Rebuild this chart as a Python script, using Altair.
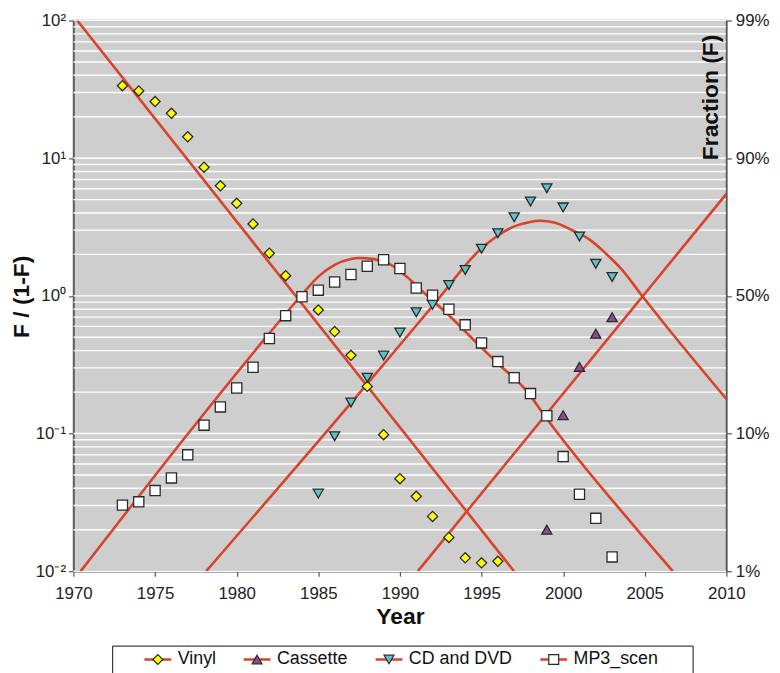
import altair as alt
import pandas as pd

series_names = ["Vinyl", "Cassette", "CD and DVD", "MP3_scen"]

vinyl_years = [1973, 1974, 1975, 1976, 1977, 1978, 1979, 1980, 1981, 1982, 1983,
               1985, 1986, 1987, 1988, 1989, 1990, 1991, 1992, 1993, 1994, 1995, 1996]
vinyl_vals = [33.6, 30.8, 25.8, 21.2, 14.3, 8.6, 6.3, 4.7, 3.33, 2.04, 1.40,
              0.79, 0.55, 0.37, 0.22, 0.098, 0.047, 0.035, 0.025, 0.0176, 0.0125, 0.0115, 0.0118]

cassette_years = [1999, 2000, 2001, 2002, 2003]
cassette_vals = [0.020, 0.136, 0.305, 0.53, 0.70]

cd_years = [1985, 1986, 1987, 1988, 1989, 1990, 1991, 1992, 1993, 1994,
            1995, 1996, 1997, 1998, 1999, 2000, 2001, 2002, 2003]
cd_vals = [0.0366, 0.0955, 0.168, 0.254, 0.368, 0.542, 0.76, 0.86, 1.20, 1.54,
           2.20, 2.85, 3.72, 4.85, 6.05, 4.39, 2.70, 1.71, 1.37]

mp3_years = [1973, 1974, 1975, 1976, 1977, 1978, 1979, 1980, 1981, 1982, 1983,
             1984, 1985, 1986, 1987, 1988, 1989, 1990, 1991, 1992, 1993,
             1994, 1995, 1996, 1997, 1998, 1999, 2000, 2001, 2002, 2003]
mp3_vals = [0.0302, 0.0319, 0.0385, 0.0476, 0.070, 0.115, 0.156, 0.214, 0.303, 0.49, 0.718,
            0.985, 1.10, 1.26, 1.43, 1.64, 1.83, 1.58, 1.14, 1.01, 0.80,
            0.616, 0.455, 0.333, 0.254, 0.195, 0.1346, 0.068, 0.0362, 0.0242, 0.0127]

# ---------------- fitted curves ----------------
fit_names = ["Vinyl fit", "Cassette fit", "CD and DVD fit", "MP3_scen fit"]

fit_vinyl_years = [1970.23, 1996.99]
fit_vinyl_vals = [100, 0.01]

fit_cass_years = [1991.1, 2010.0]
fit_cass_vals = [0.01, 5.5]

fit_cd_years = [1978.13, 1987.88, 1992.1, 1994.97, 1995.9, 1996.9, 1997.9, 1998.6,
                1999.5, 2000.5, 2001.6, 2002.6, 2003.6, 2004.84, 2006.0, 2010.0]
fit_cd_vals = [0.01, 0.221, 0.871, 2.20, 2.69, 3.16, 3.43, 3.51,
               3.39, 3.02, 2.57, 2.04, 1.55, 1.0, 0.67, 0.178]

fit_mp3_years = [1970.44, 1983.0, 1984.0, 1985.0, 1986.0, 1987.0, 1987.5, 1988.4, 1989.4,
                 1990.4, 1991.4, 1992.2, 1993.25, 1994.26, 1995.9, 1997.9, 1998.8, 2004.4, 2006.72]
fit_mp3_vals = [0.01, 0.741, 1.023, 1.38, 1.679, 1.854, 1.884, 1.849, 1.694,
                1.38, 1.072, 0.881, 0.676, 0.513, 0.331, 0.195, 0.138, 0.0209, 0.01]

# ---------------- axes ----------------
year_ticks = [1970, 1975, 1980, 1985, 1990, 1995, 2000, 2005, 2010]
decade_ticks = [0.01, 0.1, 1, 10, 100]
left_labels = ["10⁻²", "10⁻¹", "10⁰", "10¹", "10²"]
right_labels = ["1%", "10%", "50%", "90%", "99%"]
grid_vals = [0.01, 0.02, 0.03, 0.04, 0.05, 0.06, 0.07, 0.08, 0.09,
             0.1, 0.2, 0.3, 0.4, 0.5, 0.6, 0.7, 0.8, 0.9,
             1, 2, 3, 4, 5, 6, 7, 8, 9,
             10, 20, 30, 40, 50, 60, 70, 80, 90, 100]

marker_shapes = ["diamond", "triangle-up", "triangle-down", "square"]
marker_fills = ["#FFFF00", "#8E4A92", "#62C0C6", "#FFFFFF"]
marker_stroke = "#2a2a2a"
line_color = "#D8432B"

# ---------------- tables ----------------
pts = []
for name, ys, vs in [("Vinyl", vinyl_years, vinyl_vals),
                     ("Cassette", cassette_years, cassette_vals),
                     ("CD and DVD", cd_years, cd_vals),
                     ("MP3_scen", mp3_years, mp3_vals)]:
    for y, v in zip(ys, vs):
        pts.append({"series": name, "year": y, "value": v})
pts_df = pd.DataFrame(pts)

lines = []
for name, ys, vs in [("Vinyl fit", fit_vinyl_years, fit_vinyl_vals),
                     ("Cassette fit", fit_cass_years, fit_cass_vals),
                     ("CD and DVD fit", fit_cd_years, fit_cd_vals),
                     ("MP3_scen fit", fit_mp3_years, fit_mp3_vals)]:
    for y, v in zip(ys, vs):
        lines.append({"curve": name, "year": y, "value": v})
lines_df = pd.DataFrame(lines)

grid_df = pd.DataFrame({"v": grid_vals})


def label_expr(labels):
    bounds = [0.03, 0.3, 3, 30]
    expr = "'" + labels[-1] + "'"
    for b, lab in reversed(list(zip(bounds, labels[:-1]))):
        expr = f"datum.value < {b} ? '{lab}' : ({expr})"
    return expr


FONT = "Liberation Sans, Arial, sans-serif"
TFS = 23

xscale = alt.Scale(domain=[1970, 2010], nice=False, zero=False)
yscale = alt.Scale(type="log", domain=[0.01, 100], nice=False)

axis_common = dict(labelFont=FONT, labelFontSize=17, labelColor="#222",
                   tickColor="#555", tickSize=5, tickWidth=1.2,
                   domainColor="#555", domainWidth=1.5, grid=False,
                   titleFont=FONT, titleFontWeight="bold", titleColor="#111",
                   titleFontSize=TFS)

x_axis = alt.Axis(values=year_ticks, format="d", labelFlush=False, labelPadding=10,
                  titlePadding=4, labelOverlap=False, **axis_common)

left_axis = alt.Axis(orient="left", values=decade_ticks, labelExpr=label_expr(left_labels),
                     labelPadding=3, titleX=-52, titleY=278, titleAngle=270,
                     titleAlign="center", titleBaseline="middle", labelOverlap=False, **axis_common)

right_axis = alt.Axis(orient="right", values=decade_ticks, labelExpr=label_expr(right_labels),
                      labelPadding=4, titleX=-16, titleY=77, titleAngle=270,
                      titleAlign="center", titleBaseline="middle", labelOverlap=False,
                      zindex=2, **axis_common)

LX, LY = 39, 630
LFS = 18

line_legend = alt.Legend(orient="none", legendX=LX, legendY=LY, direction="horizontal",
                         columns=4, title="MM", titleOrient="left", titleOpacity=0,
                         titleFont=FONT, titleFontSize=16, titlePadding=0,
                         symbolType="stroke", symbolSize=729, symbolStrokeWidth=2.5,
                         labelOffset=5, clipHeight=20, labelOpacity=0,
                         labelFont=FONT, labelFontSize=LFS,
                         labelExpr="replace(datum.label, ' fit', '') + (datum.label == 'MP3_scen fit' ? 'MM' : '')",
                         strokeColor="#111", fillColor="white", padding=4, columnPadding=26)

point_legend = alt.Legend(orient="none", legendX=LX, legendY=LY, direction="horizontal",
                          columns=4, title="MM", titleOrient="left", titleOpacity=0,
                          titleFont=FONT, titleFontSize=16, titlePadding=0,
                          symbolSize=100, symbolStrokeColor=marker_stroke, symbolStrokeWidth=1.2,
                          symbolOffset=6, labelOffset=11, clipHeight=20,
                          labelFont=FONT, labelFontSize=LFS, labelColor="#111",
                          padding=4, columnPadding=26)

grid = alt.Chart(grid_df).mark_rule(color="white", strokeWidth=1.4).encode(
    y=alt.Y("v:Q", scale=yscale, axis=None)
)

curves = alt.Chart(lines_df).mark_line(strokeWidth=2.6, clip=True, interpolate="monotone").encode(
    x=alt.X("year:Q", scale=xscale, axis=x_axis, title="Year"),
    y=alt.Y("value:Q", scale=yscale, axis=left_axis, title="F / (1-F)"),
    color=alt.Color("curve:N", scale=alt.Scale(domain=fit_names, range=[line_color] * 4),
                    legend=line_legend),
)

points = alt.Chart(pts_df).mark_point(filled=True, strokeWidth=1.3,
                                      opacity=1, size=105).encode(
    x=alt.X("year:Q", scale=xscale, axis=x_axis, title="Year"),
    y=alt.Y("value:Q", scale=yscale, axis=right_axis, title="Fraction (F)"),
    shape=alt.Shape("series:N", scale=alt.Scale(domain=series_names, range=marker_shapes),
                    legend=point_legend),
    fill=alt.Fill("series:N", scale=alt.Scale(domain=series_names, range=marker_fills),
                  legend=point_legend),
    stroke=alt.Stroke("series:N", scale=alt.Scale(domain=series_names, range=[marker_stroke] * 4),
                      legend=point_legend),
)

chart = alt.layer(grid, curves, points).resolve_axis(y="independent").properties(
    width=658, height=555,
    autosize=alt.AutoSizeParams(type="none"),
    padding={"left": 66, "top": 10, "right": 46, "bottom": 100},
    background="white",
).configure_view(fill="#CECECE", stroke="#777", strokeWidth=1.5)

chart.save("out.html", embed_options={"renderer": "svg", "actions": False})
